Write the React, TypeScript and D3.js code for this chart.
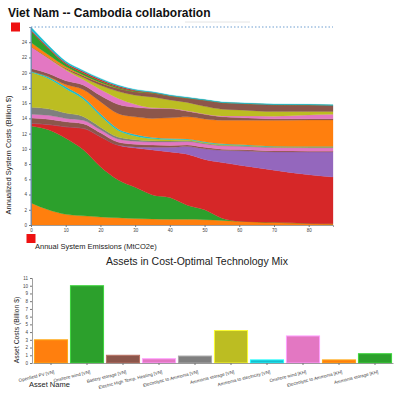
import React, { useEffect, useRef } from 'react';
import * as d3 from 'd3';

// emission levels (MtCO2e) where the optimisation was run
const emissions = [0, 5, 10, 15, 20, 25, 30, 35, 40, 45, 50, 55, 60, 70, 80, 87];

// annualized costs per technology (billion $), bottom to top of the stack
const pvVN = [2.9, 2.0, 1.4, 1.2, 1.05, 0.95, 0.85, 0.8, 0.75, 0.75, 0.7, 0.6, 0.5, 0.35, 0.2, 0.15];
const windVN = [10.1, 10.5, 10.0, 8.7, 6.6, 5.0, 4.1, 3.15, 2.85, 1.85, 1.3, 0.3, 0, 0, 0, 0];
const gasVN = [0.35, 0.7, 1.5, 2.8, 3.95, 4.55, 5.15, 5.9, 6.0, 6.7, 6.6, 7.3, 7.35, 6.85, 6.4, 6.15];
const coalVN = [0, 0, 0, 0, 0, 0, 0.15, 0.35, 0.6, 1.0, 1.4, 1.6, 1.9, 2.4, 3.0, 3.3];
const batteryVN = [0.7, 0.7, 0.65, 0.6, 0.5, 0.4, 0.35, 0.3, 0.25, 0.2, 0.2, 0.15, 0.15, 0.12, 0.1, 0.1];
const heatingVN = [0.5, 0.5, 0.45, 0.45, 0.4, 0.4, 0.4, 0.4, 0.45, 0.45, 0.45, 0.45, 0.45, 0.45, 0.45, 0.45];
const electrolysisVN = [0.9, 0.85, 0.7, 0.5, 0.35, 0.25, 0.2, 0.15, 0.12, 0.1, 0.08, 0.06, 0.05, 0.05, 0.05, 0.05];
const nh3StorageVN = [4.6, 4.0, 3.2, 2.3, 1.5, 0.9, 0.5, 0.3, 0.2, 0.15, 0.1, 0.1, 0.08, 0.06, 0.05, 0.05];
const nh3PowerVN = [0.15, 0.2, 0.25, 0.25, 0.25, 0.2, 0.2, 0.15, 0.15, 0.1, 0.1, 0.1, 0.08, 0.06, 0.05, 0.05];
const fossilHeatVN = [0, 0.05, 0.3, 1.0, 1.6, 2.0, 2.3, 2.5, 2.7, 2.9, 3.0, 3.1, 3.2, 3.4, 3.5, 3.5];
const batteryKH = [0.35, 0.4, 0.5, 0.6, 0.8, 1.2, 1.25, 1.3, 1.2, 0.75, 0.6, 0.45, 0.35, 0.2, 0.15, 0.15];
const windKH = [2.9, 2.0, 1.4, 0.7, 0.8, 0.8, 0.4, 0.1, 0.05, 0.05, 0.05, 0.1, 0.2, 0.35, 0.5, 0.6];
const nh3StorageKH2 = [0, 0.05, 0.15, 0.3, 0.55, 0.9, 1.2, 1.4, 1.1, 1.1, 1.0, 0.9, 0.8, 0.6, 0.45, 0.35];
const transmission = [0, 0.05, 0.1, 0.2, 0.3, 0.4, 0.45, 0.5, 0.5, 0.55, 0.8, 0.85, 0.85, 0.9, 0.85, 0.8];
const electrolysisKH = [0.5, 0.35, 0.2, 0.1, 0.05, 0, 0, 0, 0, 0, 0, 0, 0, 0, 0, 0];
const nh3StorageKH = [1.5, 0.8, 0.35, 0.25, 0.2, 0.15, 0.1, 0.05, 0.03, 0.02, 0, 0, 0, 0, 0, 0];
const gasKH = [0.15, 0.15, 0.15, 0.2, 0.2, 0.15, 0.1, 0.05, 0.03, 0.02, 0, 0, 0, 0, 0, 0];
const nh3PowerKH = [0.4, 0.3, 0.2, 0.15, 0.15, 0.12, 0.1, 0.1, 0.1, 0.1, 0.1, 0.1, 0.1, 0.1, 0.1, 0.1];

const stackSeries = [
  pvVN, windVN, gasVN, coalVN, batteryVN, heatingVN, electrolysisVN, nh3StorageVN, nh3PowerVN,
  fossilHeatVN, batteryKH, windKH, nh3StorageKH2, transmission, electrolysisKH, nh3StorageKH, gasKH, nh3PowerKH,
];
const stackColors = [
  '#ff7f0e', '#2ca02c', '#d62728', '#9467bd', '#8c564b', '#e377c2', '#7f7f7f', '#bcbd22', '#17becf',
  '#ff7f0e', '#8c564b', '#e377c2', '#bcbd22', '#8c564b', '#ff7f0e', '#2ca02c', '#d62728', '#17becf',
];

// asset costs for the selected point
const assetNames = [
  'Openfield PV [VN]', 'Onshore wind [VN]', 'Battery storage [VN]', 'Electric High Temp. Heating [VN]',
  'Electrolytic to Ammonia [VN]', 'Ammonia storage [VN]', 'Ammonia to electricity [VN]', 'Onshore wind [KH]',
  'Electrolytic to Ammonia [KH]', 'Ammonia storage [KH]',
];
const assetCosts = [3.0, 10.0, 1.0, 0.55, 0.9, 4.2, 0.4, 3.5, 0.4, 1.2];
const assetColors = ['#ff7f0e', '#2ca02c', '#8c564b', '#e377c2', '#7f7f7f', '#bcbd22', '#17becf', '#e377c2', '#ff7f0e', '#2ca02c'];

const FONT = 'Liberation Sans, Arial, Helvetica, sans-serif';

const App = () => {
  const svgRef = useRef(null);

  useEffect(() => {
    const svg = d3.select(svgRef.current);
    svg.selectAll('*').remove();
    svg.style('font-family', FONT);

    svg.append('text')
      .attr('x', 8)
      .attr('y', 17)
      .style('font-size', '12px')
      .style('font-weight', 'bold')
      .attr('fill', '#111')
      .text('Viet Nam -- Cambodia collaboration');
    svg.append('line')
      .attr('x1', 185).attr('x2', 250).attr('y1', 22).attr('y2', 22)
      .attr('stroke', '#e4e4e4').attr('stroke-width', 1);

    // ---- stacked area chart
    const x = d3.scaleLinear().domain([0, 87]).range([31, 333]);
    const y = d3.scaleLinear().domain([0, 26]).range([225, 27]);

    const keys = stackSeries.map((_, i) => `s${i}`);
    const rows = emissions.map((e, i) => {
      const r: any = { e };
      keys.forEach((k, j) => { r[k] = stackSeries[j][i]; });
      return r;
    });
    const layers = d3.stack().keys(keys)(rows);
    const area = d3.area<any>()
      .x((d) => x(d.data.e))
      .y0((d) => y(d[0]))
      .y1((d) => y(d[1]))
      .curve(d3.curveMonotoneX);

    svg.append('g')
      .selectAll('path')
      .data(layers)
      .enter()
      .append('path')
      .attr('d', area)
      .attr('fill', (d, i) => stackColors[i])
      .attr('stroke', (d, i) => stackColors[i])
      .attr('stroke-width', 0.3);

    const yAxis = svg.append('g')
      .attr('transform', `translate(${x(0)},0)`)
      .call(d3.axisLeft(y).tickValues(d3.range(0, 25, 2)).tickSize(2).tickPadding(2));
    const xAxis = svg.append('g')
      .attr('transform', `translate(0,${y(0)})`)
      .call(d3.axisBottom(x).tickValues(d3.range(0, 81, 10)).tickSize(2).tickPadding(2));
    [yAxis, xAxis].forEach((g) => {
      g.selectAll('text').style('font-size', '4.5px').style('font-family', FONT).attr('fill', '#444');
      g.selectAll('line').attr('stroke', '#777');
      g.select('.domain').attr('stroke', '#888').attr('stroke-width', 0.8);
    });

    const maxTotal = d3.max(rows, (r) => d3.sum(keys, (k) => r[k])) as number;
    svg.append('line')
      .attr('x1', x(0)).attr('x2', x(87))
      .attr('y1', y(maxTotal)).attr('y2', y(maxTotal))
      .attr('stroke', '#6f9fd0').attr('stroke-width', 1).attr('stroke-dasharray', '1.5,2');
    svg.append('line')
      .attr('x1', x(0)).attr('x2', x(0))
      .attr('y1', y(maxTotal)).attr('y2', y(0))
      .attr('stroke', '#5b8fd0').attr('stroke-width', 0.8);

    svg.append('rect').attr('x', 11).attr('y', y(maxTotal) - 4.5).attr('width', 9).attr('height', 9).attr('fill', '#ee1111');
    svg.append('rect').attr('x', x(0) - 4.5).attr('y', 234).attr('width', 9).attr('height', 9).attr('fill', '#ee1111');

    svg.append('text')
      .attr('transform', `translate(8,${(y(0) + 85) / 2}) rotate(-90)`)
      .attr('text-anchor', 'middle')
      .attr('dy', '0.35em')
      .style('font-size', '7.5px')
      .attr('fill', '#222')
      .text('Annualized System Costs (Billion $)');
    svg.append('text')
      .attr('x', 35)
      .attr('y', 249)
      .style('font-size', '7.5px')
      .attr('fill', '#222')
      .text('Annual System Emissions (MtCO2e)');

    // ---- bar chart
    svg.append('text')
      .attr('x', 197)
      .attr('y', 265)
      .attr('text-anchor', 'middle')
      .style('font-size', '10.5px')
      .attr('fill', '#222')
      .text('Assets in Cost-Optimal Technology Mix');

    const xb = d3.scaleBand().domain(assetNames).range([33, 393]).paddingInner(0.08).paddingOuter(0.04);
    const yb = d3.scaleLinear().domain([0, 11]).range([363, 278]);

    svg.append('g')
      .selectAll('rect')
      .data(assetNames)
      .enter()
      .append('rect')
      .attr('x', (d) => xb(d) as number)
      .attr('y', (d, i) => yb(assetCosts[i]))
      .attr('width', xb.bandwidth())
      .attr('height', (d, i) => yb(0) - yb(assetCosts[i]))
      .attr('fill', (d, i) => assetColors[i])
      .attr('stroke', (d, i) => (d3.color(assetColors[i]) as any).brighter(0.8).formatHex())
      .attr('stroke-width', 1);

    const ybAxis = svg.append('g')
      .attr('transform', `translate(32,0)`)
      .call(d3.axisLeft(yb).ticks(11).tickSize(2).tickPadding(2));
    const xbAxis = svg.append('g')
      .attr('transform', `translate(0,${yb(0)})`)
      .call(d3.axisBottom(xb).tickSize(2).tickSizeOuter(0));
    [ybAxis, xbAxis].forEach((g) => {
      g.selectAll('text').style('font-size', '4.5px').style('font-family', FONT).attr('fill', '#444');
      g.selectAll('line').attr('stroke', '#777');
      g.select('.domain').attr('stroke', '#888').attr('stroke-width', 0.8);
    });
    xbAxis.selectAll('text')
      .attr('text-anchor', 'end')
      .attr('dy', '0.3em')
      .attr('transform', 'translate(2,4) rotate(-14)');

    svg.append('text')
      .attr('transform', 'translate(17,330) rotate(-90)')
      .attr('text-anchor', 'middle')
      .attr('dy', '0.35em')
      .style('font-size', '6.8px')
      .attr('fill', '#222')
      .text('Asset Costs (Billion $)');
    svg.append('text')
      .attr('x', 29)
      .attr('y', 387)
      .style('font-size', '7.5px')
      .attr('fill', '#222')
      .text('Asset Name');
  }, []);

  return (
    <svg
      ref={svgRef}
      width={400}
      height={395}
      style={{ position: 'absolute', left: 0, top: 0, background: '#fff' }}
    ></svg>
  );
};

export default App;
